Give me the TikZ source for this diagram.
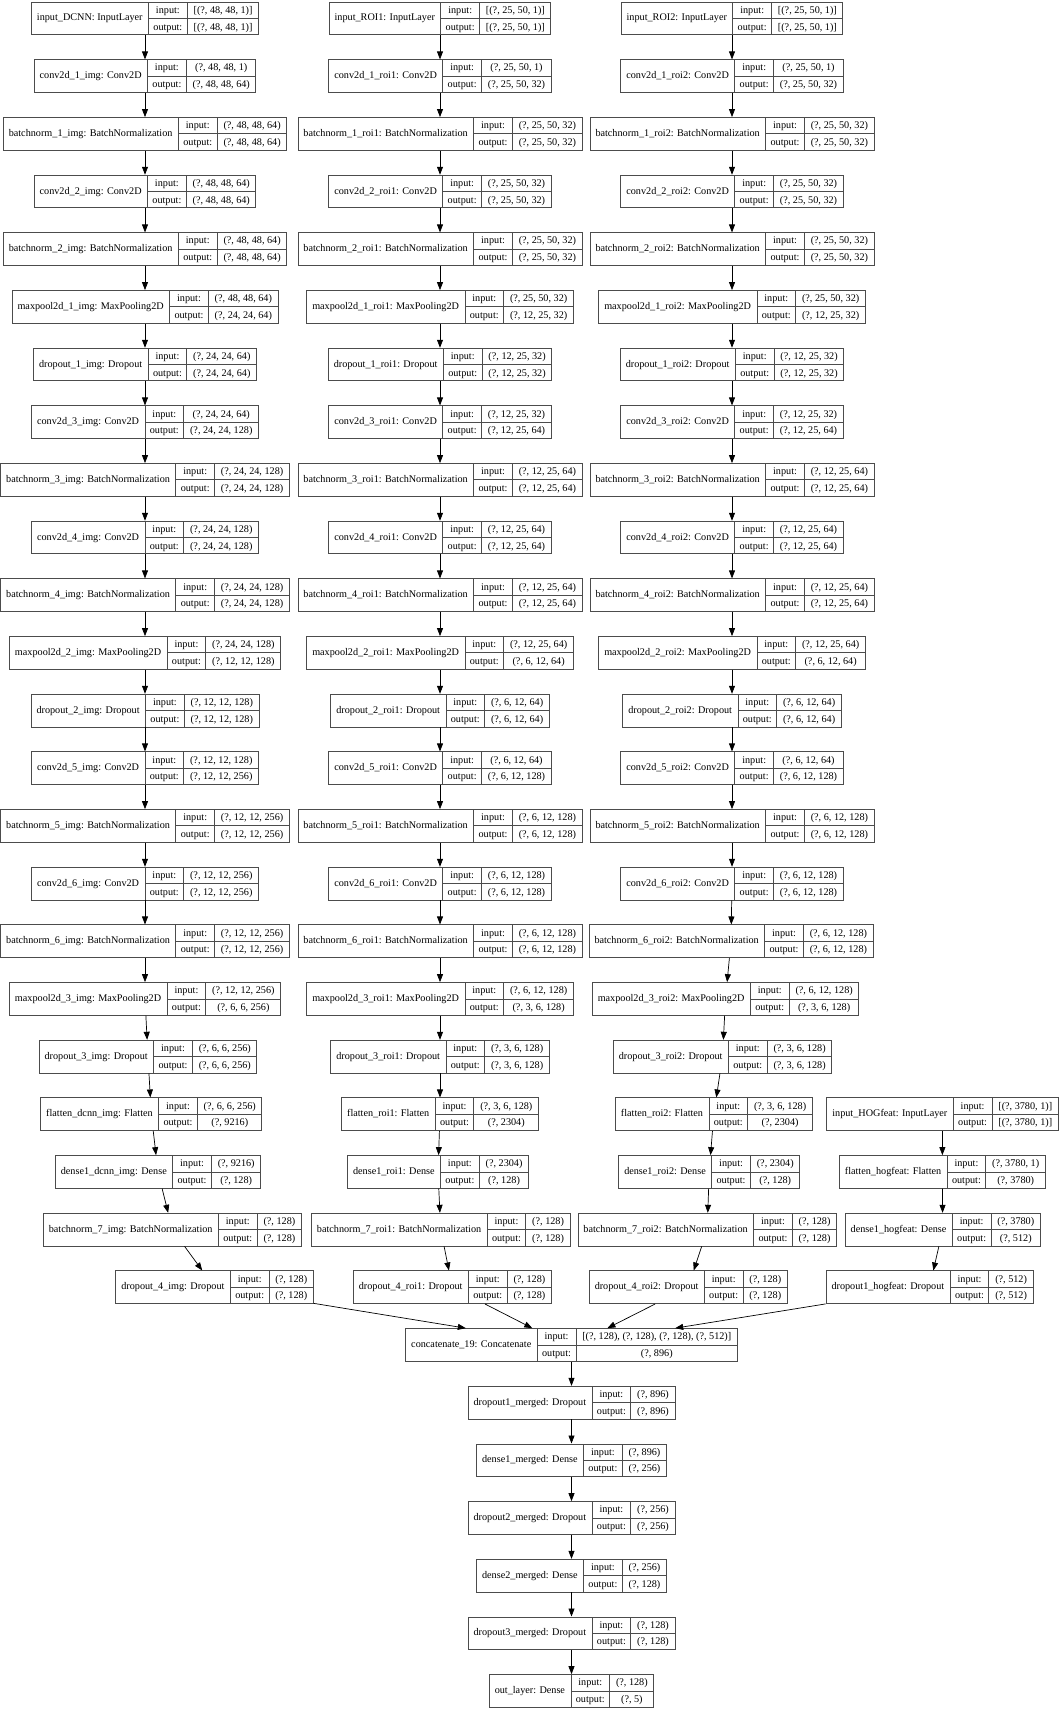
\documentclass[tikz,border=0pt]{standalone}
\usepackage{fontspec}
\setmainfont{Liberation Serif}
\usepackage{colortbl}
\usetikzlibrary{arrows.meta,calc}
\definecolor{RecClr}{gray}{0.3}
\arrayrulecolor{RecClr}
\setlength{\arrayrulewidth}{0.8pt}
\renewcommand{\arraystretch}{1.33}
\newcommand{\ry}[1]{18.5+57.67*(#1-1)}
\newcommand{\layerrec}[3]{%
  \begin{tabular}{@{\hspace{5.5pt}}c@{\hspace{5.5pt}}|@{}c@{}|@{}c@{}}
  #1 & \begin{tabular}{@{\hspace{4.5pt}}c@{\hspace{4.5pt}}}input:\\\hline output:\end{tabular} &
  \begin{tabular}{@{\hspace{6pt}}c@{\hspace{6pt}}}{#2}\\\hline {#3}\end{tabular}
  \end{tabular}}

\begin{document}
\begin{tikzpicture}[x=1pt,y=-1pt,
  rec/.style={draw=RecClr,line width=0.8pt,inner sep=0pt,font=\fontsize{10.2}{12}\selectfont},
  edge/.style={-{Triangle[length=8pt,width=6pt]},line width=0.7pt}]
\useasboundingbox (0,0) rectangle (1059,1710);

% image branch
\node[rec] (img1) at (145,{\ry{1}}) {\layerrec{input\_DCNN: InputLayer}{[(?, 48, 48, 1)]}{[(?, 48, 48, 1)]}};
\node[rec] (img2) at (145,{\ry{2}}) {\layerrec{conv2d\_1\_img: Conv2D}{(?, 48, 48, 1)}{(?, 48, 48, 64)}};
\node[rec] (img3) at (145,{\ry{3}}) {\layerrec{batchnorm\_1\_img: BatchNormalization}{(?, 48, 48, 64)}{(?, 48, 48, 64)}};
\node[rec] (img4) at (145,{\ry{4}}) {\layerrec{conv2d\_2\_img: Conv2D}{(?, 48, 48, 64)}{(?, 48, 48, 64)}};
\node[rec] (img5) at (145,{\ry{5}}) {\layerrec{batchnorm\_2\_img: BatchNormalization}{(?, 48, 48, 64)}{(?, 48, 48, 64)}};
\node[rec] (img6) at (145,{\ry{6}}) {\layerrec{maxpool2d\_1\_img: MaxPooling2D}{(?, 48, 48, 64)}{(?, 24, 24, 64)}};
\node[rec] (img7) at (145,{\ry{7}}) {\layerrec{dropout\_1\_img: Dropout}{(?, 24, 24, 64)}{(?, 24, 24, 64)}};
\node[rec] (img8) at (145,{\ry{8}}) {\layerrec{conv2d\_3\_img: Conv2D}{(?, 24, 24, 64)}{(?, 24, 24, 128)}};
\node[rec] (img9) at (145,{\ry{9}}) {\layerrec{batchnorm\_3\_img: BatchNormalization}{(?, 24, 24, 128)}{(?, 24, 24, 128)}};
\node[rec] (img10) at (145,{\ry{10}}) {\layerrec{conv2d\_4\_img: Conv2D}{(?, 24, 24, 128)}{(?, 24, 24, 128)}};
\node[rec] (img11) at (145,{\ry{11}}) {\layerrec{batchnorm\_4\_img: BatchNormalization}{(?, 24, 24, 128)}{(?, 24, 24, 128)}};
\node[rec] (img12) at (145,{\ry{12}}) {\layerrec{maxpool2d\_2\_img: MaxPooling2D}{(?, 24, 24, 128)}{(?, 12, 12, 128)}};
\node[rec] (img13) at (145,{\ry{13}}) {\layerrec{dropout\_2\_img: Dropout}{(?, 12, 12, 128)}{(?, 12, 12, 128)}};
\node[rec] (img14) at (145,{\ry{14}}) {\layerrec{conv2d\_5\_img: Conv2D}{(?, 12, 12, 128)}{(?, 12, 12, 256)}};
\node[rec] (img15) at (145,{\ry{15}}) {\layerrec{batchnorm\_5\_img: BatchNormalization}{(?, 12, 12, 256)}{(?, 12, 12, 256)}};
\node[rec] (img16) at (145,{\ry{16}}) {\layerrec{conv2d\_6\_img: Conv2D}{(?, 12, 12, 256)}{(?, 12, 12, 256)}};
\node[rec] (img17) at (145,{\ry{17}}) {\layerrec{batchnorm\_6\_img: BatchNormalization}{(?, 12, 12, 256)}{(?, 12, 12, 256)}};
\node[rec] (img18) at (145,{\ry{18}}) {\layerrec{maxpool2d\_3\_img: MaxPooling2D}{(?, 12, 12, 256)}{(?, 6, 6, 256)}};
\node[rec] (img19) at (148,{\ry{19}}) {\layerrec{dropout\_3\_img: Dropout}{(?, 6, 6, 256)}{(?, 6, 6, 256)}};
\node[rec] (img20) at (151.3,{\ry{20}}) {\layerrec{flatten\_dcnn\_img: Flatten}{(?, 6, 6, 256)}{(?, 9216)}};
\node[rec] (img21) at (158,{\ry{21}}) {\layerrec{dense1\_dcnn\_img: Dense}{(?, 9216)}{(?, 128)}};
\node[rec] (img22) at (172.3,{\ry{22}}) {\layerrec{batchnorm\_7\_img: BatchNormalization}{(?, 128)}{(?, 128)}};
\node[rec] (img23) at (214.5,{\ry{23}}) {\layerrec{dropout\_4\_img: Dropout}{(?, 128)}{(?, 128)}};

% first ROI branch
\node[rec] (roia1) at (440,{\ry{1}}) {\layerrec{input\_ROI1: InputLayer}{[(?, 25, 50, 1)]}{[(?, 25, 50, 1)]}};
\node[rec] (roia2) at (440,{\ry{2}}) {\layerrec{conv2d\_1\_roi1: Conv2D}{(?, 25, 50, 1)}{(?, 25, 50, 32)}};
\node[rec] (roia3) at (440,{\ry{3}}) {\layerrec{batchnorm\_1\_roi1: BatchNormalization}{(?, 25, 50, 32)}{(?, 25, 50, 32)}};
\node[rec] (roia4) at (440,{\ry{4}}) {\layerrec{conv2d\_2\_roi1: Conv2D}{(?, 25, 50, 32)}{(?, 25, 50, 32)}};
\node[rec] (roia5) at (440,{\ry{5}}) {\layerrec{batchnorm\_2\_roi1: BatchNormalization}{(?, 25, 50, 32)}{(?, 25, 50, 32)}};
\node[rec] (roia6) at (440,{\ry{6}}) {\layerrec{maxpool2d\_1\_roi1: MaxPooling2D}{(?, 25, 50, 32)}{(?, 12, 25, 32)}};
\node[rec] (roia7) at (440,{\ry{7}}) {\layerrec{dropout\_1\_roi1: Dropout}{(?, 12, 25, 32)}{(?, 12, 25, 32)}};
\node[rec] (roia8) at (440,{\ry{8}}) {\layerrec{conv2d\_3\_roi1: Conv2D}{(?, 12, 25, 32)}{(?, 12, 25, 64)}};
\node[rec] (roia9) at (440,{\ry{9}}) {\layerrec{batchnorm\_3\_roi1: BatchNormalization}{(?, 12, 25, 64)}{(?, 12, 25, 64)}};
\node[rec] (roia10) at (440,{\ry{10}}) {\layerrec{conv2d\_4\_roi1: Conv2D}{(?, 12, 25, 64)}{(?, 12, 25, 64)}};
\node[rec] (roia11) at (440,{\ry{11}}) {\layerrec{batchnorm\_4\_roi1: BatchNormalization}{(?, 12, 25, 64)}{(?, 12, 25, 64)}};
\node[rec] (roia12) at (440,{\ry{12}}) {\layerrec{maxpool2d\_2\_roi1: MaxPooling2D}{(?, 12, 25, 64)}{(?, 6, 12, 64)}};
\node[rec] (roia13) at (440,{\ry{13}}) {\layerrec{dropout\_2\_roi1: Dropout}{(?, 6, 12, 64)}{(?, 6, 12, 64)}};
\node[rec] (roia14) at (440,{\ry{14}}) {\layerrec{conv2d\_5\_roi1: Conv2D}{(?, 6, 12, 64)}{(?, 6, 12, 128)}};
\node[rec] (roia15) at (440,{\ry{15}}) {\layerrec{batchnorm\_5\_roi1: BatchNormalization}{(?, 6, 12, 128)}{(?, 6, 12, 128)}};
\node[rec] (roia16) at (440,{\ry{16}}) {\layerrec{conv2d\_6\_roi1: Conv2D}{(?, 6, 12, 128)}{(?, 6, 12, 128)}};
\node[rec] (roia17) at (440,{\ry{17}}) {\layerrec{batchnorm\_6\_roi1: BatchNormalization}{(?, 6, 12, 128)}{(?, 6, 12, 128)}};
\node[rec] (roia18) at (440,{\ry{18}}) {\layerrec{maxpool2d\_3\_roi1: MaxPooling2D}{(?, 6, 12, 128)}{(?, 3, 6, 128)}};
\node[rec] (roia19) at (440,{\ry{19}}) {\layerrec{dropout\_3\_roi1: Dropout}{(?, 3, 6, 128)}{(?, 3, 6, 128)}};
\node[rec] (roia20) at (440,{\ry{20}}) {\layerrec{flatten\_roi1: Flatten}{(?, 3, 6, 128)}{(?, 2304)}};
\node[rec] (roia21) at (438,{\ry{21}}) {\layerrec{dense1\_roi1: Dense}{(?, 2304)}{(?, 128)}};
\node[rec] (roia22) at (440.7,{\ry{22}}) {\layerrec{batchnorm\_7\_roi1: BatchNormalization}{(?, 128)}{(?, 128)}};
\node[rec] (roia23) at (452.3,{\ry{23}}) {\layerrec{dropout\_4\_roi1: Dropout}{(?, 128)}{(?, 128)}};

% second ROI branch
\node[rec] (roib1) at (732,{\ry{1}}) {\layerrec{input\_ROI2: InputLayer}{[(?, 25, 50, 1)]}{[(?, 25, 50, 1)]}};
\node[rec] (roib2) at (732,{\ry{2}}) {\layerrec{conv2d\_1\_roi2: Conv2D}{(?, 25, 50, 1)}{(?, 25, 50, 32)}};
\node[rec] (roib3) at (732,{\ry{3}}) {\layerrec{batchnorm\_1\_roi2: BatchNormalization}{(?, 25, 50, 32)}{(?, 25, 50, 32)}};
\node[rec] (roib4) at (732,{\ry{4}}) {\layerrec{conv2d\_2\_roi2: Conv2D}{(?, 25, 50, 32)}{(?, 25, 50, 32)}};
\node[rec] (roib5) at (732,{\ry{5}}) {\layerrec{batchnorm\_2\_roi2: BatchNormalization}{(?, 25, 50, 32)}{(?, 25, 50, 32)}};
\node[rec] (roib6) at (732,{\ry{6}}) {\layerrec{maxpool2d\_1\_roi2: MaxPooling2D}{(?, 25, 50, 32)}{(?, 12, 25, 32)}};
\node[rec] (roib7) at (732,{\ry{7}}) {\layerrec{dropout\_1\_roi2: Dropout}{(?, 12, 25, 32)}{(?, 12, 25, 32)}};
\node[rec] (roib8) at (732,{\ry{8}}) {\layerrec{conv2d\_3\_roi2: Conv2D}{(?, 12, 25, 32)}{(?, 12, 25, 64)}};
\node[rec] (roib9) at (732,{\ry{9}}) {\layerrec{batchnorm\_3\_roi2: BatchNormalization}{(?, 12, 25, 64)}{(?, 12, 25, 64)}};
\node[rec] (roib10) at (732,{\ry{10}}) {\layerrec{conv2d\_4\_roi2: Conv2D}{(?, 12, 25, 64)}{(?, 12, 25, 64)}};
\node[rec] (roib11) at (732,{\ry{11}}) {\layerrec{batchnorm\_4\_roi2: BatchNormalization}{(?, 12, 25, 64)}{(?, 12, 25, 64)}};
\node[rec] (roib12) at (732,{\ry{12}}) {\layerrec{maxpool2d\_2\_roi2: MaxPooling2D}{(?, 12, 25, 64)}{(?, 6, 12, 64)}};
\node[rec] (roib13) at (732,{\ry{13}}) {\layerrec{dropout\_2\_roi2: Dropout}{(?, 6, 12, 64)}{(?, 6, 12, 64)}};
\node[rec] (roib14) at (732,{\ry{14}}) {\layerrec{conv2d\_5\_roi2: Conv2D}{(?, 6, 12, 64)}{(?, 6, 12, 128)}};
\node[rec] (roib15) at (732,{\ry{15}}) {\layerrec{batchnorm\_5\_roi2: BatchNormalization}{(?, 6, 12, 128)}{(?, 6, 12, 128)}};
\node[rec] (roib16) at (732,{\ry{16}}) {\layerrec{conv2d\_6\_roi2: Conv2D}{(?, 6, 12, 128)}{(?, 6, 12, 128)}};
\node[rec] (roib17) at (731,{\ry{17}}) {\layerrec{batchnorm\_6\_roi2: BatchNormalization}{(?, 6, 12, 128)}{(?, 6, 12, 128)}};
\node[rec] (roib18) at (725.5,{\ry{18}}) {\layerrec{maxpool2d\_3\_roi2: MaxPooling2D}{(?, 6, 12, 128)}{(?, 3, 6, 128)}};
\node[rec] (roib19) at (722.5,{\ry{19}}) {\layerrec{dropout\_3\_roi2: Dropout}{(?, 3, 6, 128)}{(?, 3, 6, 128)}};
\node[rec] (roib20) at (713.8,{\ry{20}}) {\layerrec{flatten\_roi2: Flatten}{(?, 3, 6, 128)}{(?, 2304)}};
\node[rec] (roib21) at (709.2,{\ry{21}}) {\layerrec{dense1\_roi2: Dense}{(?, 2304)}{(?, 128)}};
\node[rec] (roib22) at (707.2,{\ry{22}}) {\layerrec{batchnorm\_7\_roi2: BatchNormalization}{(?, 128)}{(?, 128)}};
\node[rec] (roib23) at (688.2,{\ry{23}}) {\layerrec{dropout\_4\_roi2: Dropout}{(?, 128)}{(?, 128)}};

% HOG branch
\node[rec] (hog20) at (942.5,{\ry{20}}) {\layerrec{input\_HOGfeat: InputLayer}{[(?, 3780, 1)]}{[(?, 3780, 1)]}};
\node[rec] (hog21) at (942.3,{\ry{21}}) {\layerrec{flatten\_hogfeat: Flatten}{(?, 3780, 1)}{(?, 3780)}};
\node[rec] (hog22) at (942.7,{\ry{22}}) {\layerrec{dense1\_hogfeat: Dense}{(?, 3780)}{(?, 512)}};
\node[rec] (hog23) at (929.5,{\ry{23}}) {\layerrec{dropout1\_hogfeat: Dropout}{(?, 512)}{(?, 512)}};

% merged head
\node[rec] (mrg24) at (571.5,{\ry{24}}) {\layerrec{concatenate\_19: Concatenate}{[(?, 128), (?, 128), (?, 128), (?, 512)]}{(?, 896)}};
\node[rec] (mrg25) at (571.5,{\ry{25}}) {\layerrec{dropout1\_merged: Dropout}{(?, 896)}{(?, 896)}};
\node[rec] (mrg26) at (571.5,{\ry{26}}) {\layerrec{dense1\_merged: Dense}{(?, 896)}{(?, 256)}};
\node[rec] (mrg27) at (571.5,{\ry{27}}) {\layerrec{dropout2\_merged: Dropout}{(?, 256)}{(?, 256)}};
\node[rec] (mrg28) at (571.5,{\ry{28}}) {\layerrec{dense2\_merged: Dense}{(?, 256)}{(?, 128)}};
\node[rec] (mrg29) at (571.5,{\ry{29}}) {\layerrec{dropout3\_merged: Dropout}{(?, 128)}{(?, 128)}};
\node[rec] (mrg30) at (571.5,{\ry{30}}) {\layerrec{out\_layer: Dense}{(?, 128)}{(?, 5)}};

% where the four branches enter the concatenation
\coordinate (catA) at ($(mrg24.north west)!0.182!(mrg24.north east)$);
\coordinate (catB) at ($(mrg24.north west)!0.382!(mrg24.north east)$);
\coordinate (catC) at ($(mrg24.north west)!0.608!(mrg24.north east)$);
\coordinate (catD) at ($(mrg24.north west)!0.812!(mrg24.north east)$);

\foreach \i [evaluate=\i as \j using int(\i+1)] in {1,...,22}{
  \draw[edge] (img\i) -- (img\j);
  \draw[edge] (roia\i) -- (roia\j);
  \draw[edge] (roib\i) -- (roib\j);
}
\foreach \i [evaluate=\i as \j using int(\i+1)] in {20,21,22}
  \draw[edge] (hog\i) -- (hog\j);
\foreach \i [evaluate=\i as \j using int(\i+1)] in {24,...,29}
  \draw[edge] (mrg\i) -- (mrg\j);

\draw[edge] (img23) -- (catA);
\draw[edge] (roia23) -- (catB);
\draw[edge] (roib23) -- (catC);
\draw[edge] (hog23) -- (catD);

\end{tikzpicture}
\end{document}
